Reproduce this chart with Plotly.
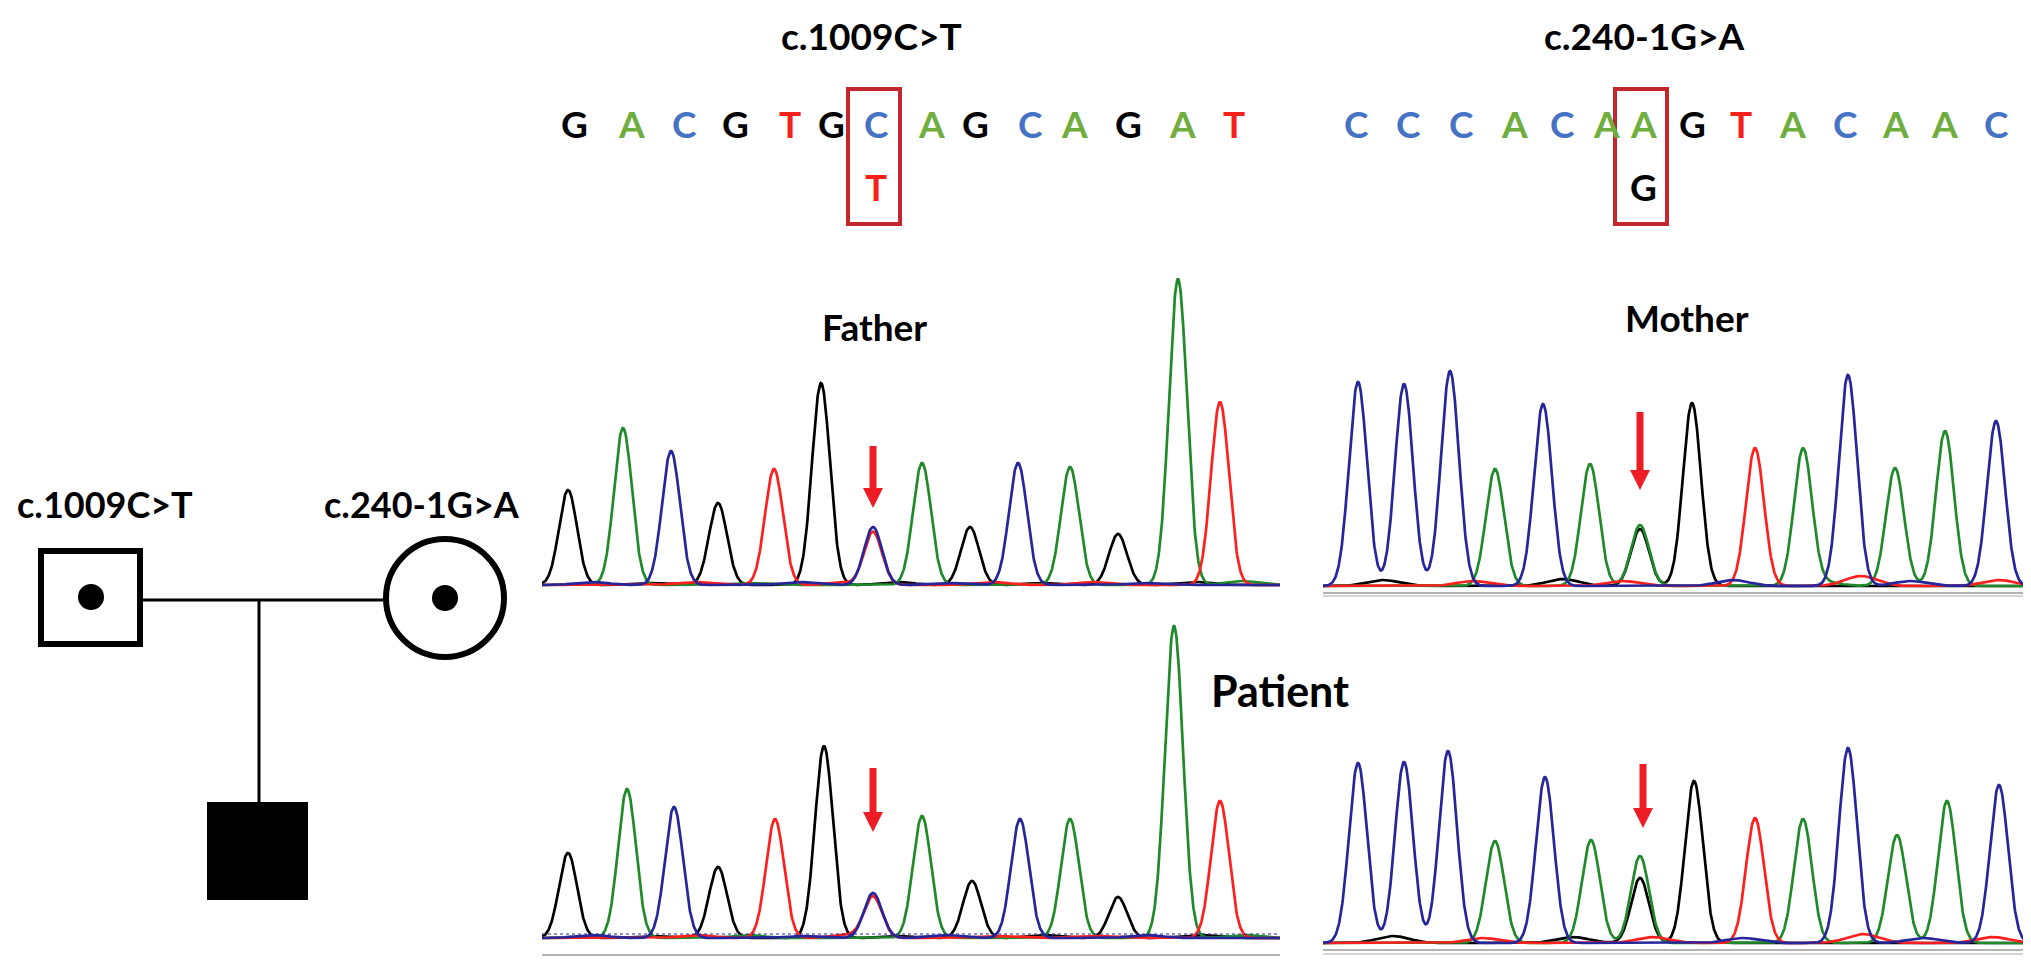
import numpy as np
import plotly.graph_objects as go

W, H = 2031, 969

# ---------------- data ----------------
mut_left = "c.1009C>T"
mut_right = "c.240-1G>A"
panel_names = ["Father", "Mother", "Patient"]

seq_left = list("GACGTGCAGCAGAT")
seq_left_alt = "T"
seq_left_alt_idx = 6
seq_right = list("CCCACAAGTACAAC")
seq_right_alt = "G"
seq_right_alt_idx = 6
# base-call positions (pixel columns)
seq_left_pos = [566, 623, 676, 727, 782, 823, 868, 923, 967, 1022, 1066, 1120, 1174, 1226]
seq_right_pos = [1348, 1400, 1453, 1506, 1554, 1598, 1635, 1684, 1733, 1784, 1837, 1887, 1936, 1988]

# chromatogram peaks: scan position, base channel, signal height
father_pos = [26, 81, 129, 176, 232, 279, 331, 331, 380, 428, 476, 528, 576, 636, 678]
father_base = list("GACGTGCTAGCAGAT")
father_h = [95, 157, 134, 82, 116, 202, 58, 53, 122, 58, 122, 118, 51, 306, 183]

mother_pos = [35, 81, 127, 172, 220, 267, 317, 317, 369, 432, 480, 525, 572, 622, 673]
mother_base = list("CCCACAAGGTACAAC")
mother_h = [204, 202, 215, 117, 182, 122, 61, 57, 183, 138, 136, 211, 118, 155, 165]

patl_pos = [26, 85, 132, 176, 233, 282, 331, 331, 380, 430, 478, 528, 576, 632, 678]
patl_base = list("GACGTGCTAGCAGAT")
patl_h = [85, 149, 131, 71, 119, 192, 45, 41, 122, 57, 119, 119, 41, 312, 137]

patr_pos = [35, 81, 125, 172, 222, 268, 317, 317, 371, 432, 480, 525, 574, 624, 676]
patr_base = list("CCCACAAGGTACAAC")
patr_h = [180, 181, 192, 102, 166, 103, 87, 65, 162, 125, 124, 195, 108, 142, 158]

# low background signal (position, channel, height)
father_noise_pos = [50, 105, 150, 205, 255, 300, 355, 405, 450, 500, 552, 600, 655, 700]
father_noise_base = list("CGTACTGCTGTCGA")
father_noise_h = [3, 2, 3, 2, 3, 2, 3, 2, 3, 2, 3, 2, 3, 4]
mother_noise_pos = [60, 150, 240, 300, 410, 538, 588, 676, 500]
mother_noise_base = list("GTGTCTCTA")
mother_noise_h = [6, 5, 7, 5, 6, 10, 5, 6, 4]
patl_noise_pos = [50, 108, 155, 205, 258, 305, 356, 405, 454, 503, 552, 604, 655, 700]
patl_noise_base = list("CGTACTGCTGTCGA")
patl_noise_h = [3, 2, 3, 3, 2, 3, 2, 3, 2, 3, 2, 3, 3, 3]
patr_noise_pos = [70, 160, 250, 330, 420, 540, 600, 670]
patr_noise_base = list("GTGTCTCT")
patr_noise_h = [7, 5, 6, 6, 5, 9, 5, 6]

# ---------------- styles ----------------
trace_col = {"G": "#000000", "A": "#1f8a2a", "C": "#26269a", "T": "#ff1f1f"}
letter_col = {"G": "#000000", "A": "#6fae3e", "C": "#4472c4", "T": "#f5221c"}
box_col = "#c1272d"
FONT = "Lato"

fig = go.Figure()

fig.update_layout(
    width=W, height=H, margin=dict(l=0, r=0, t=0, b=0),
    paper_bgcolor="white", plot_bgcolor="rgba(0,0,0,0)", showlegend=False,
    xaxis=dict(range=[0, W], domain=[0, 1], visible=False, fixedrange=True),
    yaxis=dict(range=[H, 0], domain=[0, 1], visible=False, fixedrange=True),
)

panels = [
    dict(l=534, r=1272, base=577, pos=father_pos, b=father_base, h=father_h,
         npos=father_noise_pos, nb=father_noise_base, nh=father_noise_h),
    dict(l=1315, r=2019, base=578, pos=mother_pos, b=mother_base, h=mother_h,
         npos=mother_noise_pos, nb=mother_noise_base, nh=mother_noise_h),
    dict(l=534, r=1272, base=930, pos=patl_pos, b=patl_base, h=patl_h,
         npos=patl_noise_pos, nb=patl_noise_base, nh=patl_noise_h),
    dict(l=1315, r=2019, base=935, pos=patr_pos, b=patr_base, h=patr_h,
         npos=patr_noise_pos, nb=patr_noise_base, nh=patr_noise_h),
]

SIG = 9.0
NSIG = 16.0
YTOP = 330
PAD = 6
for i, p in enumerate(panels):
    k = i + 2
    width = p["r"] - p["l"]
    xs = np.linspace(0, width, 1600)
    ybot_px = p["base"] + PAD
    ytop_px = p["base"] - YTOP
    fig.layout[f"xaxis{k}"] = dict(range=[0, width], domain=[p["l"] / W, p["r"] / W],
                                   visible=False, anchor=f"y{k}", fixedrange=True)
    fig.layout[f"yaxis{k}"] = dict(range=[-PAD, YTOP], domain=[(H - ybot_px) / H, (H - ytop_px) / H],
                                   visible=False, anchor=f"x{k}", fixedrange=True)
    for ch in ["G", "A", "T", "C"]:
        y = np.zeros_like(xs)
        for pos, b, h in zip(p["pos"], p["b"], p["h"]):
            if b == ch:
                y += h * np.exp(-0.5 * ((xs - pos) / SIG) ** 2)
        for pos, b, h in zip(p["npos"], p["nb"], p["nh"]):
            if b == ch:
                y += h * np.exp(-0.5 * ((xs - pos) / NSIG) ** 2)
        fig.add_trace(go.Scatter(x=xs, y=y, mode="lines", xaxis=f"x{k}", yaxis=f"y{k}",
                                 line=dict(color=trace_col[ch], width=2.7), hoverinfo="skip"))

shapes = []
ann = []

def text(x, y, s, size, color="black", bold=True):
    ann.append(dict(x=x, y=y, xref="x", yref="y", text=f"<b>{s}</b>" if bold else s,
                    showarrow=False, xanchor="center", yanchor="middle",
                    font=dict(family=FONT, size=size, color=color)))

# titles
text(863, 27, mut_left, 37)
text(1636, 27, mut_right, 37)

# sequences
for xpos, b in zip(seq_left_pos, seq_left):
    text(xpos, 115, b, 37, letter_col[b])
for xpos, b in zip(seq_right_pos, seq_right):
    text(xpos, 115, b, 37, letter_col[b])
text(seq_left_pos[seq_left_alt_idx], 178, seq_left_alt, 37, letter_col[seq_left_alt])
text(seq_right_pos[seq_right_alt_idx], 178, seq_right_alt, 37, letter_col[seq_right_alt])

# mutation boxes
for cx in [seq_left_pos[seq_left_alt_idx] - 2, seq_right_pos[seq_right_alt_idx] - 2]:
    shapes.append(dict(type="rect", xref="x", yref="y", x0=cx - 26, x1=cx + 26, y0=81, y1=216,
                       line=dict(color=box_col, width=4)))

# panel labels
text(866, 318, panel_names[0], 37)
text(1679, 309, panel_names[1], 37)
text(1272, 682, panel_names[2], 43)

# red arrows
def arrow(x, top, tip):
    sw, hw, hl = 7, 20, 20
    path = (f"M{x - sw/2},{top} L{x + sw/2},{top} L{x + sw/2},{tip - hl} L{x + hw/2},{tip - hl} "
            f"L{x},{tip} L{x - hw/2},{tip - hl} L{x - sw/2},{tip - hl} Z")
    shapes.append(dict(type="path", xref="x", yref="y", path=path, fillcolor="#ee1c25",
                       line=dict(width=0)))

arrow(865, 438, 500)
arrow(1632, 404, 482)
arrow(865, 760, 824)
arrow(1635, 756, 820)

# baseline guide lines under panels
shapes.append(dict(type="line", xref="x", yref="y", x0=1315, x1=2019, y0=585, y1=585,
                   line=dict(color="#9a9a9a", width=1.5)))
shapes.append(dict(type="line", xref="x", yref="y", x0=1315, x1=2019, y0=588, y1=588,
                   line=dict(color="#c8c8c8", width=1.5)))
shapes.append(dict(type="line", xref="x", yref="y", x0=534, x1=1272, y0=926, y1=926,
                   line=dict(color="#26269a", width=1.2, dash="dot")))
shapes.append(dict(type="line", xref="x", yref="y", x0=534, x1=1272, y0=947, y1=947,
                   line=dict(color="#9a9a9a", width=1.5)))
shapes.append(dict(type="line", xref="x", yref="y", x0=1315, x1=2019, y0=942, y1=942,
                   line=dict(color="#9a9a9a", width=1.5)))
shapes.append(dict(type="line", xref="x", yref="y", x0=1315, x1=2019, y0=946, y1=946,
                   line=dict(color="#c8c8c8", width=1.5)))

# pedigree
text(97, 496, mut_left, 36)
text(414, 496, mut_right, 36)
shapes.append(dict(type="rect", xref="x", yref="y", x0=33, x1=132, y0=543, y1=636,
                   line=dict(color="black", width=6), fillcolor="white"))
shapes.append(dict(type="circle", xref="x", yref="y", x0=70, x1=96, y0=576, y1=602,
                   fillcolor="black", line=dict(width=0)))
shapes.append(dict(type="circle", xref="x", yref="y", x0=378, x1=496, y0=531, y1=649,
                   line=dict(color="black", width=6), fillcolor="white"))
shapes.append(dict(type="circle", xref="x", yref="y", x0=424, x1=450, y0=577, y1=603,
                   fillcolor="black", line=dict(width=0)))
shapes.append(dict(type="line", xref="x", yref="y", x0=135, x1=375, y0=592, y1=592,
                   line=dict(color="black", width=3)))
shapes.append(dict(type="line", xref="x", yref="y", x0=251, x1=251, y0=592, y1=797,
                   line=dict(color="black", width=3)))
shapes.append(dict(type="rect", xref="x", yref="y", x0=200, x1=299, y0=795, y1=891,
                   fillcolor="black", line=dict(color="black", width=2)))

fig.update_layout(shapes=shapes, annotations=ann)
fig.write_html("out.html")
